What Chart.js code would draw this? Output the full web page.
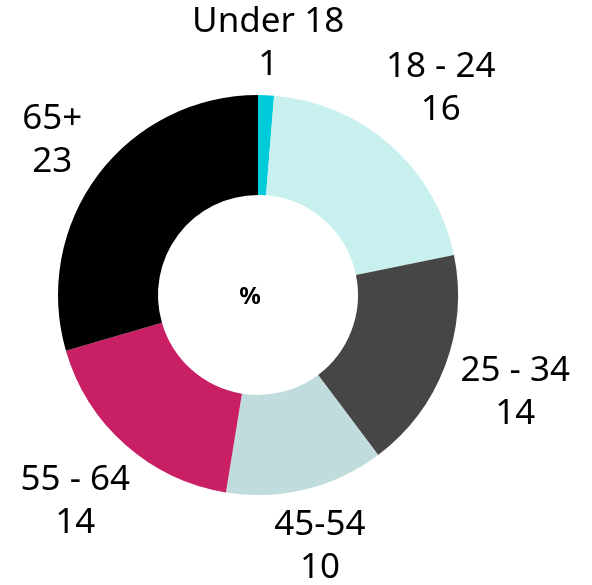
<!DOCTYPE html>
<html>
<head>
<meta charset="utf-8">
<script src="https://cdn.jsdelivr.net/npm/chart.js@4"></script>
<style>
    html, body { margin: 0; padding: 0; background: #ffffff; }
    #wrap { width: 592px; height: 585px; }
</style>
</head>
<body>
<div id="wrap"><canvas id="ageChart"></canvas></div>
<script>
const categories = ['Under 18', '18 - 24', '25 - 34', '45-54', '55 - 64', '65+'];
const shares = [1, 16, 14, 10, 14, 23];
const sliceColors = ['#00cbdb', '#c8f0ee', '#464646', '#c0dcdc', '#c91f65', '#000000'];
const centerText = '%';

const LABEL_FONT = '35px "Noto Sans"';
const LINE_H = 43;

// draws "category / value" outside each slice
const outsideLabels = {
    id: 'outsideLabels',
    afterDatasetsDraw(chart) {
        const ctx = chart.ctx;
        const arcs = chart.getDatasetMeta(0).data;
        ctx.save();
        ctx.font = LABEL_FONT;
        ctx.fillStyle = '#000000';
        ctx.textAlign = 'center';
        ctx.textBaseline = 'middle';
        arcs.forEach((arc, i) => {
            const lines = [categories[i], String(shares[i])];
            const w = Math.max(...lines.map(t => ctx.measureText(t).width));
            const h = 78;
            const a = (arc.startAngle + arc.endAngle) / 2;
            const c = Math.cos(a), s = Math.sin(a);
            const half = (w / 2) * Math.abs(c) + (h / 2) * Math.abs(s);
            const r = arc.outerRadius + 10 + half;
            const x = arc.x + r * c;
            const y = arc.y + r * s;
            ctx.fillText(lines[0], x, y - LINE_H / 2);
            ctx.fillText(lines[1], x, y + LINE_H / 2);
        });
        // center text
        const a0 = arcs[0];
        ctx.font = 'bold 24px "Noto Sans"';
        ctx.fillText(centerText, a0.x - 8, a0.y + 2);
        ctx.restore();
    }
};

const ctx = document.getElementById('ageChart').getContext('2d');
const ageChart = new Chart(ctx, {
    type: 'doughnut',
    data: {
        labels: categories,
        datasets: [{
            data: shares,
            backgroundColor: sliceColors,
            borderWidth: 0
        }]
    },
    options: {
        responsive: true,
        maintainAspectRatio: false,
        animation: false,
        cutout: '50%',
        layout: {
            padding: { left: 58, right: 134, top: 95, bottom: 90 }
        },
        plugins: {
            legend: { display: false },
            tooltip: { enabled: false }
        }
    },
    plugins: [outsideLabels]
});
</script>
</body>
</html>
